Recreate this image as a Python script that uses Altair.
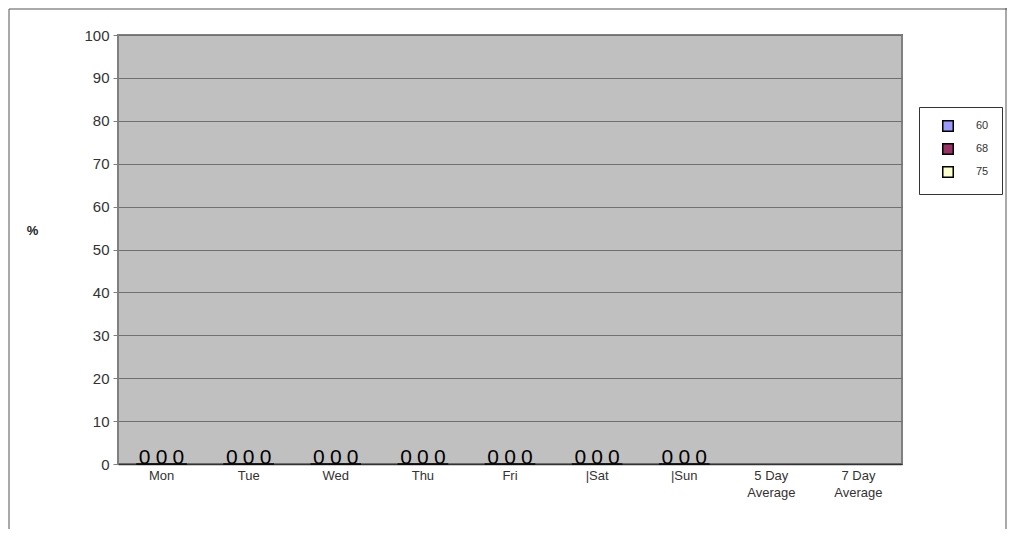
import altair as alt
import pandas as pd

categories = ["Mon", "Tue", "Wed", "Thu", "Fri", "|Sat", "|Sun", "5 Day\nAverage", "7 Day\nAverage"]
series = ["60", "68", "75"]
values_60 = [0, 0, 0, 0, 0, 0, 0, None, None]
values_68 = [0, 0, 0, 0, 0, 0, 0, None, None]
values_75 = [0, 0, 0, 0, 0, 0, 0, None, None]
colors = ["#9999FF", "#993366", "#FFFFCC"]
y_ticks = [0, 10, 20, 30, 40, 50, 60, 70, 80, 90, 100]

rows = []
for s, vals in zip(series, [values_60, values_68, values_75]):
    for c, v in zip(categories, vals):
        rows.append({"day": c, "series": s, "value": v})
df = pd.DataFrame(rows)

FONT = "Liberation Sans"

x_enc = alt.X("day:N", sort=categories, title=None,
              scale=alt.Scale(paddingInner=0.42, paddingOuter=0.21),
              axis=alt.Axis(labelAngle=0, ticks=False, labelPadding=5,
                            labelFontSize=13, labelColor="#333", labelFont=FONT,
                            labelExpr="split(datum.label, '\\n')",
                            domainColor="#333", domainWidth=1.5, labelLineHeight=17))
y_enc = alt.Y("value:Q", scale=alt.Scale(domain=[0, 100], nice=False),
              title="%",
              axis=alt.Axis(values=y_ticks, grid=True, gridColor="#707070", gridWidth=1,
                            tickColor="#808080", tickSize=5, labelPadding=4,
                            labelFontSize=15, labelColor="#333", labelFont=FONT,
                            domain=False,
                            titleAngle=0, titleX=-86, titleY=195, titleFontSize=13,
                            titleFont=FONT, titleFontWeight="bold", titleAlign="center",
                            titleBaseline="middle", titleColor="#222"))

base = alt.Chart(df).encode(x=x_enc, xOffset=alt.XOffset("series:N", sort=series,
                                                          scale=alt.Scale(paddingInner=0, paddingOuter=0)))

bars = base.mark_bar(stroke="black", strokeWidth=1).encode(
    y=y_enc,
    color=alt.Color("series:N", sort=series,
                    scale=alt.Scale(domain=series, range=colors),
                    legend=alt.Legend(title=None, orient="none", legendX=801, legendY=72,
                                      symbolType="square", symbolSize=110,
                                      symbolStrokeColor="black", symbolStrokeWidth=1.5,
                                      labelFontSize=11, labelFont=FONT, labelColor="#333",
                                      labelExpr="datum.label + '    '",
                                      padding=13, symbolOffset=10, labelOffset=22,
                                      rowPadding=5, strokeColor="#333",
                                      fillColor="white")),
)

labels = base.transform_filter("isValid(datum.value)").mark_text(
    fontSize=21, font=FONT, baseline="alphabetic", dy=0, color="black"
).encode(y=alt.Y("value:Q"), text=alt.Text("value:Q", format="d"))

frame_df = pd.DataFrame({"k": [0]})
left_line = alt.Chart(frame_df).mark_rule(color="#555", strokeWidth=1, clip=False).encode(
    x=alt.value(-109), y=alt.value(-26), y2=alt.value(505))
top_line = alt.Chart(frame_df).mark_rule(color="#555", strokeWidth=1, clip=False).encode(
    x=alt.value(-109), x2=alt.value(890), y=alt.value(-26))
right_line = alt.Chart(frame_df).mark_rule(color="#555", strokeWidth=1, clip=False).encode(
    x=alt.value(888), y=alt.value(-27), y2=alt.value(505))

chart = alt.layer(bars, labels, left_line, top_line, right_line).properties(
    width=784, height=429,
    background="white",
    autosize=alt.AutoSizeParams(type="none"),
    padding={"left": 110, "top": 27, "right": 105, "bottom": 65},
).configure_view(fill="#C0C0C0", stroke="#808080", strokeWidth=2)

chart.save("out.html", embed_options={"renderer": "svg", "actions": False})
